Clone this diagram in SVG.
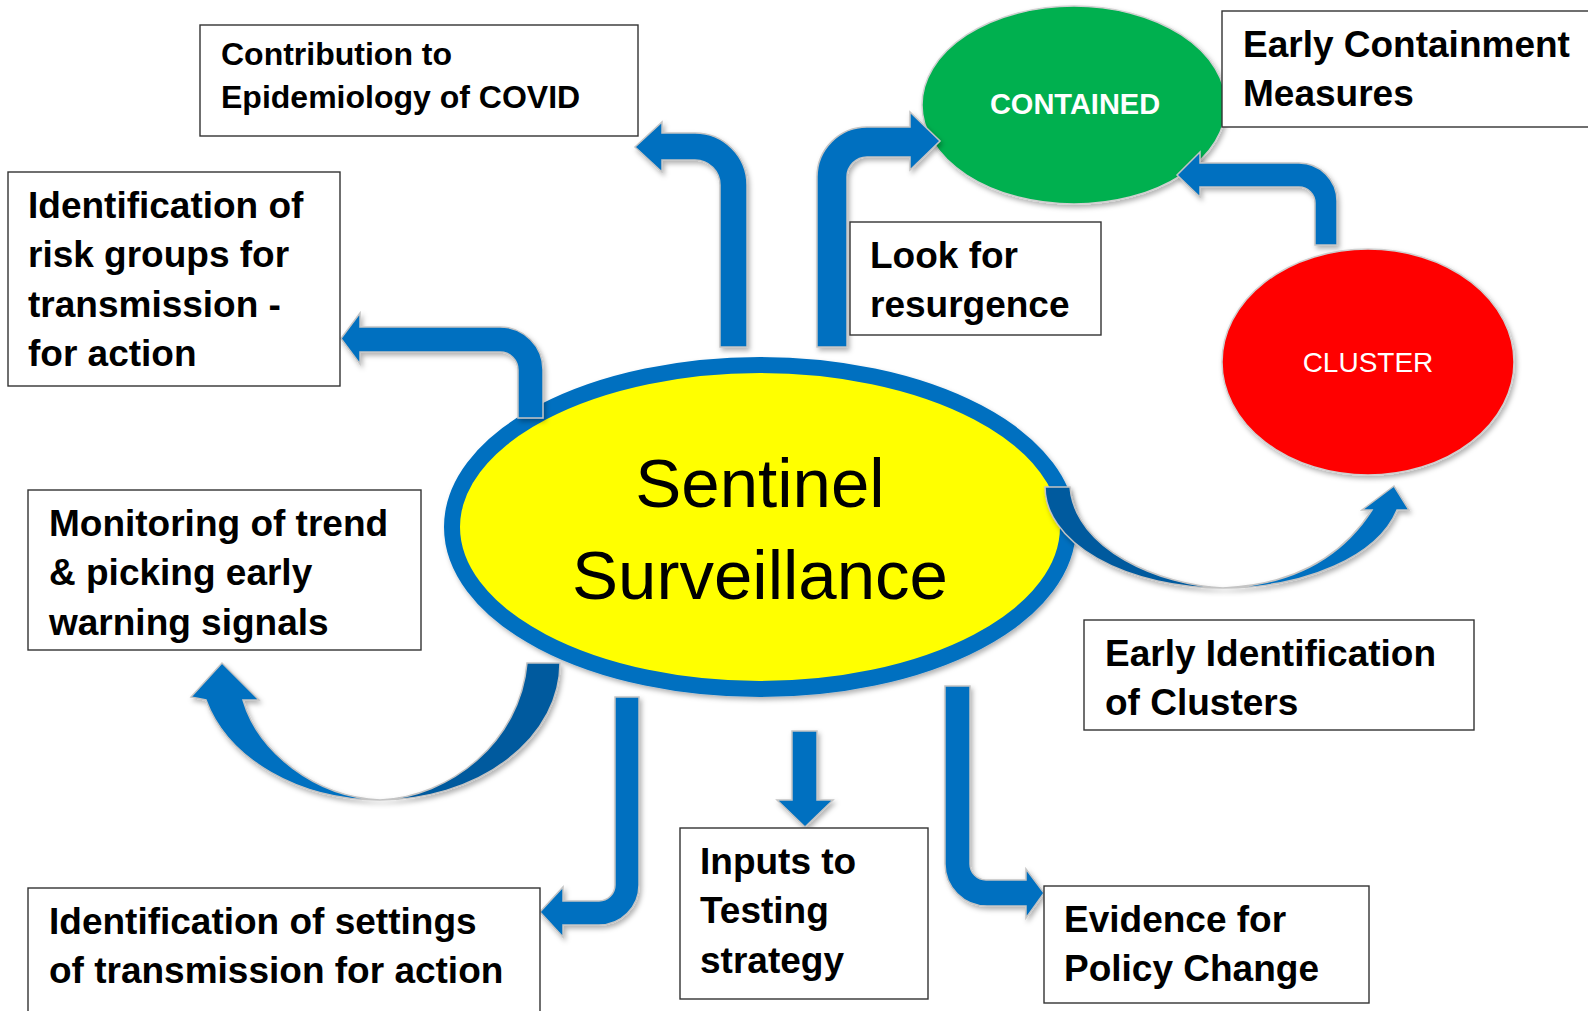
<svg xmlns="http://www.w3.org/2000/svg" width="1588" height="1011" viewBox="0 0 1588 1011">
<style>
.box{fill:#fff;stroke:#333;stroke-width:1.4}
.bt{font-family:"Liberation Sans",Arial,sans-serif;font-weight:bold;font-size:37px;fill:#000}
.arr{fill:#0070C0;stroke:#C4C4C4;stroke-width:1.5;stroke-linejoin:miter}
.dark{fill:#005A9E;stroke:#C4C4C4;stroke-width:1.5}
</style>
<defs>
<filter id="sh" x="-20%" y="-20%" width="140%" height="140%">
<feDropShadow dx="2" dy="3" stdDeviation="2.5" flood-color="#000" flood-opacity="0.3"/>
</filter>
</defs>
<rect width="1588" height="1011" fill="#fff"/>

<g id="contained">
<ellipse cx="1074" cy="105" rx="152" ry="99" fill="#00B050" stroke="#D0D0D0" stroke-width="1.5" filter="url(#sh)"/>
<text x="1075" y="114" text-anchor="middle" font-family="Liberation Sans, Arial, sans-serif" font-weight="bold" font-size="29" fill="#fff">CONTAINED</text>
</g>
<g id="cluster">
<ellipse cx="1368" cy="362" rx="146" ry="113" fill="#FF0000" stroke="#D0D0D0" stroke-width="1.5" filter="url(#sh)"/>
<text x="1368" y="372" text-anchor="middle" font-family="Liberation Sans, Arial, sans-serif" font-size="28" fill="#fff">CLUSTER</text>
</g>
<g id="sentinel">
<ellipse cx="760" cy="527" rx="308" ry="162" fill="#FFFF00" stroke="#0070C0" stroke-width="16" filter="url(#sh)"/>
<text x="760" y="507" text-anchor="middle" font-family="Liberation Sans, Arial, sans-serif" font-size="69" fill="#000">Sentinel</text>
<text x="760" y="599" text-anchor="middle" font-family="Liberation Sans, Arial, sans-serif" font-size="69" fill="#000">Surveillance</text>
</g>

<g id="connectors" filter="url(#sh)">
<path class="arr" d="M 720 347 L 720 185 A 25 25 0 0 0 695 160 L 662 160 L 662 172 L 635 147 L 662 122 L 662 133 L 695 133 A 52 52 0 0 1 747 185 L 747 347 Z"/>
<path class="arr" d="M 817 347 L 817 177 A 50 50 0 0 1 867 127 L 910 127 L 910 112 L 940 141 L 910 170 L 910 157 L 867 157 A 20 20 0 0 0 847 177 L 847 347 Z"/>
<path class="arr" d="M 518 418 L 518 370 A 18 18 0 0 0 500 352 L 360 352 L 360 364 L 341 338.5 L 360 313 L 360 327 L 500 327 A 43 43 0 0 1 543 370 L 543 418 Z"/>
<path class="arr" d="M 1315 245 L 1315 203 A 16 16 0 0 0 1299 187 L 1200 187 L 1200 197 L 1177 175 L 1200 152 L 1200 163 L 1299 163 A 38 38 0 0 1 1337 201 L 1337 245 Z"/>
<path class="arr" d="M 615 697 L 639 697 L 639 885 A 40 40 0 0 1 599 925 L 563 925 L 563 937 L 540 912 L 563 887 L 563 901 L 599 901 A 16 16 0 0 0 615 885 Z"/>
<path class="arr" d="M 945 686 L 970 686 L 970 864 A 16 16 0 0 0 986 880 L 1026 880 L 1026 869 L 1044 893 L 1026 918 L 1026 906 L 987 906 A 42 42 0 0 1 945 864 Z"/>
<path class="arr" d="M 792 731 L 817 731 L 817 800 L 833 800 L 805 827 L 777 800 L 792 800 Z"/>
<path class="dark" d="M 560 663 A 180 137 0 0 1 380 800 C 450 797 520 742 527 663 Z"/>
<path class="arr" d="M 380 800 A 180 137 0 0 1 206 700 L 191 697 L 222 663 L 259 700 L 243 700 C 258 752 315 797 380 800 Z"/>
<path class="dark" d="M 1045 487 A 178 101 0 0 0 1223 588 C 1160 585 1075 550 1070 487 Z"/>
<path class="arr" d="M 1223 588 A 178 101 0 0 0 1397 510 L 1409 510 L 1394 486 L 1362 510 L 1372 510 C 1340 560 1290 585 1223 588 Z"/>
</g>

<g id="box-contribution">
<rect class="box" x="200" y="25" width="438" height="111"/>
<text class="bt" style="font-size:32px" x="221" y="65">Contribution to</text>
<text class="bt" style="font-size:32px" x="221" y="108">Epidemiology of COVID</text>
</g>
<g id="box-risk">
<rect class="box" x="8" y="172" width="332" height="214"/>
<text class="bt" x="28" y="217.5">Identification of</text>
<text class="bt" x="28" y="267">risk groups for</text>
<text class="bt" x="28" y="316.5">transmission -</text>
<text class="bt" x="28" y="366">for action</text>
</g>
<g id="box-monitoring">
<rect class="box" x="28" y="490" width="393" height="160"/>
<text class="bt" x="49" y="535.5">Monitoring of trend</text>
<text class="bt" x="49" y="585">&amp; picking early</text>
<text class="bt" x="49" y="634.5">warning signals</text>
</g>
<g id="box-settings">
<rect class="box" x="28" y="888" width="512" height="135"/>
<text class="bt" x="49" y="933.5">Identification of settings</text>
<text class="bt" x="49" y="983">of transmission for action</text>
</g>
<g id="box-inputs">
<rect class="box" x="680" y="828" width="248" height="171"/>
<text class="bt" x="700" y="873.5">Inputs to</text>
<text class="bt" x="700" y="923">Testing</text>
<text class="bt" x="700" y="972.5">strategy</text>
</g>
<g id="box-evidence">
<rect class="box" x="1044" y="886" width="325" height="117"/>
<text class="bt" x="1064" y="931.5">Evidence for</text>
<text class="bt" x="1064" y="980.5">Policy Change</text>
</g>
<g id="box-early-id">
<rect class="box" x="1084" y="620" width="390" height="110"/>
<text class="bt" x="1105" y="666">Early Identification</text>
<text class="bt" x="1105" y="715">of Clusters</text>
</g>
<g id="box-resurgence">
<rect class="box" x="850" y="222" width="251" height="113"/>
<text class="bt" x="870" y="267.5">Look for</text>
<text class="bt" x="870" y="317">resurgence</text>
</g>
<g id="box-containment">
<rect class="box" x="1222" y="11" width="370" height="116"/>
<text class="bt" x="1243" y="57">Early Containment</text>
<text class="bt" x="1243" y="106">Measures</text>
</g>
</svg>
